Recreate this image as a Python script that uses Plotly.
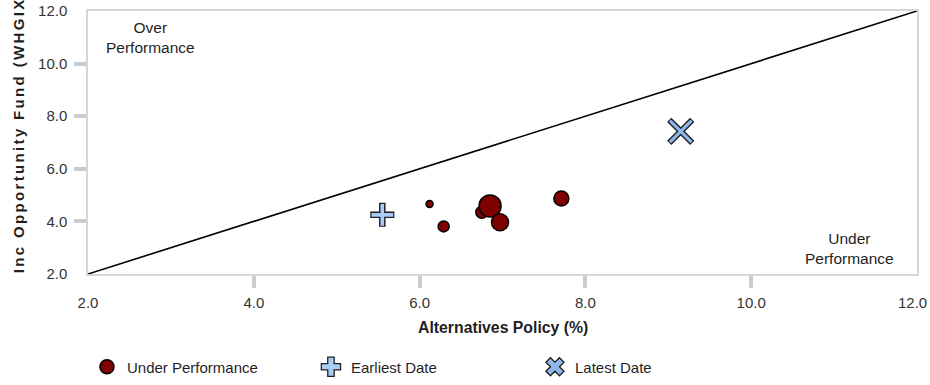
import plotly.graph_objects as go

# ---- data ----
under_x = [6.12, 6.29, 6.75, 6.85, 6.97, 7.71]
under_y = [4.66, 3.81, 4.35, 4.59, 3.97, 4.87]
under_size = [7, 11, 12, 22, 17, 15]
earliest_x = [5.55]
earliest_y = [4.25]
latest_x = [9.15]
latest_y = [7.42]
diag_x = [2, 12]
diag_y = [2, 12]
tick_vals = [2, 4, 6, 8, 10, 12]
tick_text = ["2.0", "4.0", "6.0", "8.0", "10.0", "12.0"]
minor_vals = [4, 6, 8, 10]

FONT = "Arial, Liberation Sans, sans-serif"
DARK = "#1f1f1f"
PLUS_BLUE = "#a9cdf7"
X_BLUE = "#8db6ea"

fig = go.Figure()
fig.add_trace(go.Scatter(x=diag_x, y=diag_y, mode="lines",
                         line=dict(color="black", width=1.6),
                         showlegend=False, hoverinfo="skip"))
fig.add_trace(go.Scatter(x=under_x, y=under_y, mode="markers", name="Under Performance",
                         marker=dict(size=under_size, color="#800000", opacity=1,
                                     line=dict(color="black", width=1.5))))
# earliest date: outlined plus (dark stroke under a light-blue stroke)
fig.add_trace(go.Scatter(x=earliest_x, y=earliest_y, mode="markers", showlegend=False,
                         marker=dict(symbol="cross-thin", size=17.2, color=DARK,
                                     line=dict(color=DARK, width=6.5))))
fig.add_trace(go.Scatter(x=earliest_x, y=earliest_y, mode="markers", showlegend=False,
                         marker=dict(symbol="cross-thin", size=15.5, color=PLUS_BLUE,
                                     line=dict(color=PLUS_BLUE, width=3.6))))
# latest date: outlined X
fig.add_trace(go.Scatter(x=latest_x, y=latest_y, mode="markers", showlegend=False,
                         marker=dict(symbol="x-thin", size=23, color=DARK,
                                     line=dict(color=DARK, width=6))))
fig.add_trace(go.Scatter(x=latest_x, y=latest_y, mode="markers", showlegend=False,
                         marker=dict(symbol="x-thin", size=21.5, color=X_BLUE,
                                     line=dict(color=X_BLUE, width=3.2))))
# legend entries for the two single-point series
fig.add_trace(go.Scatter(x=[None], y=[None], mode="markers", name="Earliest Date",
                         marker=dict(symbol="cross", size=20, color=PLUS_BLUE,
                                     line=dict(color=DARK, width=1.3))))
fig.add_trace(go.Scatter(x=[None], y=[None], mode="markers", name="Latest Date",
                         marker=dict(symbol="x", size=20, color=X_BLUE,
                                     line=dict(color=DARK, width=1.3))))

def axis(ticklen, texts):
    return dict(
        range=[2, 12], tickvals=tick_vals, ticktext=texts,
        ticks="outside", ticklen=ticklen, tickcolor="rgba(0,0,0,0)",
        minor=dict(tickvals=minor_vals, ticks="outside", ticklen=12, tickwidth=4,
                   tickcolor="#c9cdd2"),
        showgrid=False, zeroline=False, automargin=False,
        showline=True, mirror=True, linecolor="#d6d6d6", linewidth=1.5,
        tickfont=dict(family=FONT, size=15, color="#333333"),
    )

# last x label is drawn as an annotation pulled slightly inside the page edge
x_texts = tick_text[:-1] + [""]

fig.update_layout(
    width=930, height=385,
    margin=dict(l=88, r=13, t=11, b=111),
    paper_bgcolor="white", plot_bgcolor="white",
    xaxis=axis(14, x_texts),
    yaxis=axis(16, tick_text),
    showlegend=True,
    hovermode=False,
    legend=dict(orientation="h", xref="container", yref="container",
                x=0.0935, y=0.0468, xanchor="left", yanchor="middle",
                itemsizing="trace", font=dict(family=FONT, size=15, color=DARK),
                entrywidth=179, entrywidthmode="pixels", bgcolor="rgba(0,0,0,0)"),
    annotations=[
        dict(text=tick_text[-1], xref="paper", yref="paper", x=1, y=-0.11,
             xshift=-5, xanchor="center", yanchor="middle", showarrow=False,
             font=dict(family=FONT, size=15, color="#333333")),
        dict(text="<b>Alternatives Policy (%)</b>", xref="paper", yref="paper",
             x=0.5, y=-0.204, xanchor="center", yanchor="middle", showarrow=False,
             font=dict(family=FONT, size=15.8, color=DARK)),
        dict(text="Over<br>Performance", xref="paper", yref="paper", x=0.0757, y=0.900,
             xanchor="center", yanchor="middle",
             showarrow=False, align="center", font=dict(family=FONT, size=15.5, color=DARK)),
        dict(text="Under<br>Performance", xref="paper", yref="paper", x=0.919, y=0.096,
             xanchor="center", yanchor="middle",
             showarrow=False, align="center", font=dict(family=FONT, size=15.5, color=DARK)),
        dict(text="<b>Inc Opportunity Fund (WHGIX) (%)</b>", xref="paper", yref="paper",
             x=-0.0848, y=0.612, xanchor="center", yanchor="middle", textangle=-90,
             showarrow=False, font=dict(family=FONT, size=15, color=DARK)),
    ],
)

post = """
document.documentElement.style.margin = '0';
document.body.style.margin = '0';
document.body.style.padding = '0';
var gd = document.getElementById('{plot_id}');
function spaceTitle() {
  gd.querySelectorAll('.annotation-text').forEach(function (t) {
    if (t.textContent.indexOf('Opportunity') >= 0) { t.style.letterSpacing = '2.35px'; }
  });
}
spaceTitle();
if (gd.on) { gd.on('plotly_afterplot', spaceTitle); }
"""

fig.write_html("out.html", post_script=post, config={"displayModeBar": False})
